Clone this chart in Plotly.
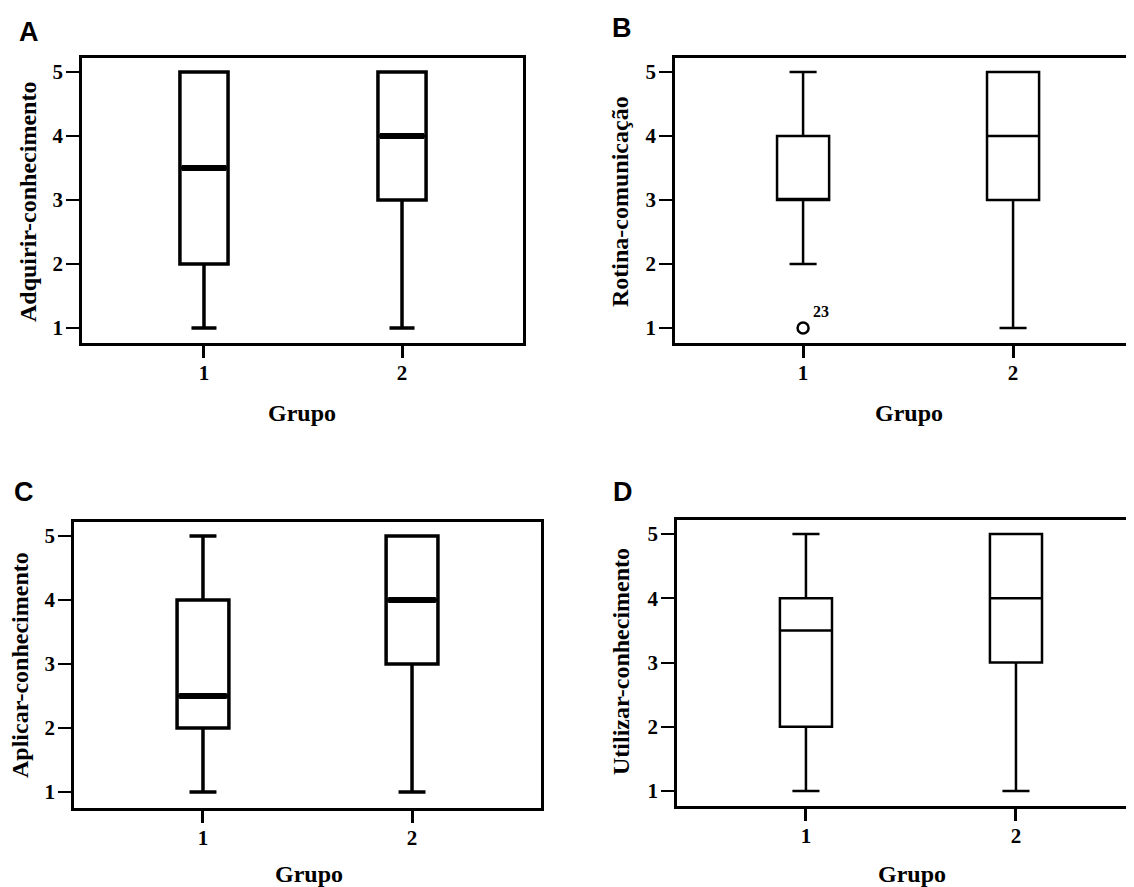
import plotly.graph_objects as go

# page size and body offset (default 8px body margin in the html page)
PW, PH = 1134, 887
OFF = 8
FW, FH = PW - OFF, PH - OFF

groups = [1, 2]
group_labels = ["1", "2"]
y_ticks = [1, 2, 3, 4, 5]

# Panel A: Adquirir-conhecimento
a_low = [1, 1]
a_q1 = [2, 3]
a_med = [3.5, 4]
a_q3 = [5, 5]
a_high = [5, 5]

# Panel B: Rotina-comunicação
b_low = [2, 1]
b_q1 = [3, 3]
b_med = [3, 4]
b_q3 = [4, 5]
b_high = [5, 5]
b_out_x = [1]
b_out_y = [1]
b_out_id = ["23"]

# Panel C: Aplicar-conhecimento
c_low = [1, 1]
c_q1 = [2, 3]
c_med = [2.5, 4]
c_q3 = [4, 5]
c_high = [5, 5]

# Panel D: Utilizar-conhecimento
d_low = [1, 1]
d_q1 = [2, 3]
d_med = [3.5, 4]
d_q3 = [4, 5]
d_high = [5, 5]

titles = ["Adquirir-conhecimento", "Rotina-comunicação",
          "Aplicar-conhecimento", "Utilizar-conhecimento"]
letters = ["A", "B", "C", "D"]
xlabel = "Grupo"

SERIF = "Liberation Serif"
SANS = "Liberation Sans"


def px_x(p):
    return (p - OFF) / FW


def px_y(p):
    return 1 - (p - OFF) / FH


panels = [
    dict(l=82, r=523, t=58, b=343, xr=[0.384, 2.611], yr=[0.766, 5.22], thick=True, mirror_y=True,
         bw=0.243, stats=(a_low, a_q1, a_med, a_q3, a_high)),
    dict(l=675, r=1134, t=58, b=343, xr=[0.39, 2.576], yr=[0.766, 5.22], thick=False, mirror_y=False,
         bw=0.248, stats=(b_low, b_q1, b_med, b_q3, b_high)),
    dict(l=74, r=541, t=522, b=808, xr=[0.383, 2.617], yr=[0.75, 5.22], thick=True, mirror_y=True,
         bw=0.248, stats=(c_low, c_q1, c_med, c_q3, c_high)),
    dict(l=677, r=1134, t=520, b=806, xr=[0.386, 2.562], yr=[0.767, 5.218], thick=False, mirror_y=False,
         bw=0.248, stats=(d_low, d_q1, d_med, d_q3, d_high)),
]

fig = go.Figure()
layout = {}
for i, p in enumerate(panels):
    n = "" if i == 0 else str(i + 1)
    xa, ya = "x" + n, "y" + n
    low, q1, med, q3, high = p["stats"]
    lw = 3.5 if p["thick"] else 2.5
    bw = p["bw"]
    fig.add_trace(go.Box(
        x=groups, q1=q1, median=med, q3=q3, lowerfence=low, upperfence=high,
        width=bw, whiskerwidth=0.52, boxpoints=False,
        fillcolor="white", line=dict(color="black", width=lw),
        xaxis=xa, yaxis=ya, showlegend=False, hoverinfo="skip"))
    if p["thick"]:
        mx, my = [], []
        for g, m in zip(groups, med):
            mx += [g - bw / 2 + 0.01, g + bw / 2 - 0.01, None]
            my += [m, m, None]
        fig.add_trace(go.Scatter(x=mx, y=my, mode="lines",
                                 line=dict(color="black", width=6),
                                 xaxis=xa, yaxis=ya, showlegend=False, hoverinfo="skip"))
    layout["xaxis" + n] = dict(
        domain=[max(0.0, px_x(p["l"])), min(1.0, px_x(p["r"]))], range=p["xr"], anchor=ya,
        tickvals=groups, ticktext=group_labels, ticks="outside", ticklen=12, tickwidth=3,
        tickcolor="black", showline=True, linecolor="black", linewidth=2.5, mirror=True,
        showgrid=False, zeroline=False, ticklabelstandoff=-3,
        tickfont=dict(family=SERIF, size=21, color="black", weight="bold"))
    layout["yaxis" + n] = dict(
        domain=[px_y(p["b"]), px_y(p["t"])], range=p["yr"], anchor=xa,
        tickvals=y_ticks, ticks="outside", ticklen=13, tickwidth=2,
        tickcolor="black", showline=True, linecolor="black", linewidth=2.5,
        mirror=p["mirror_y"], showgrid=False, zeroline=False, ticklabelstandoff=-1,
        tickfont=dict(family=SERIF, size=21, color="black", weight="bold"))

# outlier in panel B
fig.add_trace(go.Scatter(x=b_out_x, y=b_out_y, mode="markers",
                         marker=dict(symbol="circle-open", size=11, color="black",
                                     line=dict(width=2.5, color="black")),
                         xaxis="x2", yaxis="y2", showlegend=False, hoverinfo="skip"))

annotations = []
for ox, oy, oid in zip(b_out_x, b_out_y, b_out_id):
    annotations.append(dict(x=ox, y=oy, xref="x2", yref="y2", text="<b>%s</b>" % oid, showarrow=False,
                            xshift=18, yshift=17,
                            font=dict(family=SERIF, size=16, color="black")))

# panel letters (page pixels)
letter_pos = [(29, 32), (622, 28), (24, 492), (623, 492)]
for L, (lx, ly) in zip(letters, letter_pos):
    annotations.append(dict(x=px_x(lx), y=px_y(ly), xref="paper", yref="paper", text="<b>%s</b>" % L,
                            showarrow=False, xanchor="center", yanchor="middle",
                            font=dict(family=SANS, size=27, color="black")))

# y titles
ytitle_pos = [(28, 202), (620, 202), (20, 665), (621, 662)]
for t, (tx, ty) in zip(titles, ytitle_pos):
    annotations.append(dict(x=px_x(tx), y=px_y(ty), xref="paper", yref="paper", text="<b>%s</b>" % t,
                            textangle=-90, showarrow=False, xanchor="center", yanchor="middle",
                            font=dict(family=SERIF, size=24, color="black")))

# x titles
xtitle_pos = [(302, 413), (909, 413), (309, 874), (912, 874)]
for (tx, ty) in xtitle_pos:
    annotations.append(dict(x=px_x(tx), y=px_y(ty), xref="paper", yref="paper", text="<b>%s</b>" % xlabel,
                            showarrow=False, xanchor="center", yanchor="middle",
                            font=dict(family=SERIF, size=24, color="black")))

fig.update_layout(width=FW, height=FH, margin=dict(l=0, r=0, t=0, b=0),
                  paper_bgcolor="white", plot_bgcolor="white",
                  annotations=annotations, **layout)

fig.write_html("out.html")
